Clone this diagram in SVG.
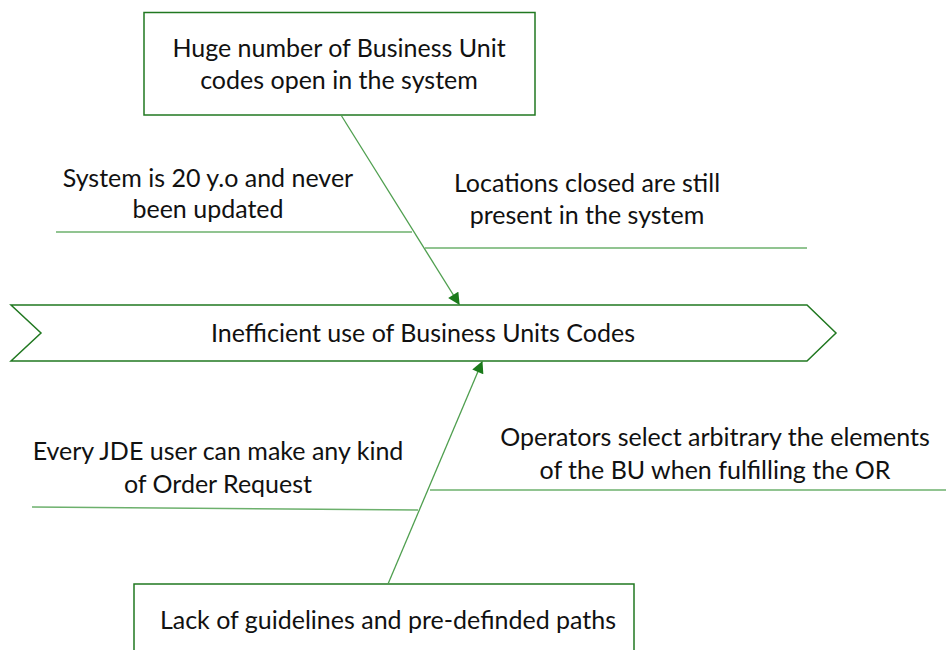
<svg xmlns="http://www.w3.org/2000/svg" width="946" height="650" viewBox="0 0 946 650">
<style>
  .box { fill: #ffffff; stroke: #217821; stroke-width: 1.5; }
  .rib { stroke: #6cb06c; stroke-width: 1.3; fill: none; }
  .conn { stroke: #4f9f4f; stroke-width: 1.3; fill: none; }
  .t { font-family: Lato, "Liberation Sans", sans-serif; font-size: 25px; fill: #111111; text-anchor: middle; }
</style>
<defs>
  <marker id="ah" viewBox="0 0 10 10" refX="9" refY="5" markerWidth="13" markerHeight="12" markerUnits="userSpaceOnUse" orient="auto">
    <path d="M0,0 L10,5 L0,10 Z" fill="#1a7a1a"/>
  </marker>
</defs>
<rect width="946" height="650" fill="#ffffff"/>

<g id="effect">
  <path class="box" d="M11,305 L807,305 L836,333 L807,361 L11,361 L41,333 Z"/>
  <text class="t" x="423" y="342">Inefficient use of Business Units Codes</text>
</g>

<g id="cause-top">
  <rect class="box" x="144" y="12.5" width="391" height="102.5"/>
  <text class="t" x="339" y="57">Huge number of Business Unit</text>
  <text class="t" x="339" y="89">codes open in the system</text>
</g>

<g id="cause-bottom">
  <rect class="box" x="134" y="584" width="500" height="80"/>
  <text class="t" x="388" y="629">Lack of guidelines and pre-definded paths</text>
</g>

<g id="sub-system">
  <text class="t" x="208" y="187">System is 20 y.o and never</text>
  <text class="t" x="208" y="218">been updated</text>
</g>

<g id="sub-locations">
  <text class="t" x="587" y="192">Locations closed are still</text>
  <text class="t" x="587" y="224">present in the system</text>
</g>

<g id="sub-jde">
  <text class="t" x="218" y="460">Every JDE user can make any kind</text>
  <text class="t" x="218" y="493">of Order Request</text>
</g>

<g id="sub-operators">
  <text class="t" x="715" y="446">Operators select arbitrary the elements</text>
  <text class="t" x="715" y="479">of the BU when fulfilling the OR</text>
</g>

<g id="connectors">
  <line class="conn" x1="341" y1="115" x2="459" y2="304" marker-end="url(#ah)"/>
  <line class="conn" x1="388" y1="584" x2="482" y2="362" marker-end="url(#ah)"/>
  <line class="rib" x1="56" y1="232" x2="412" y2="232"/>
  <line class="rib" x1="425" y1="248" x2="807" y2="248"/>
  <line class="rib" x1="32" y1="507" x2="418" y2="510"/>
  <line class="rib" x1="430" y1="490" x2="946" y2="490"/>
</g>
</svg>
